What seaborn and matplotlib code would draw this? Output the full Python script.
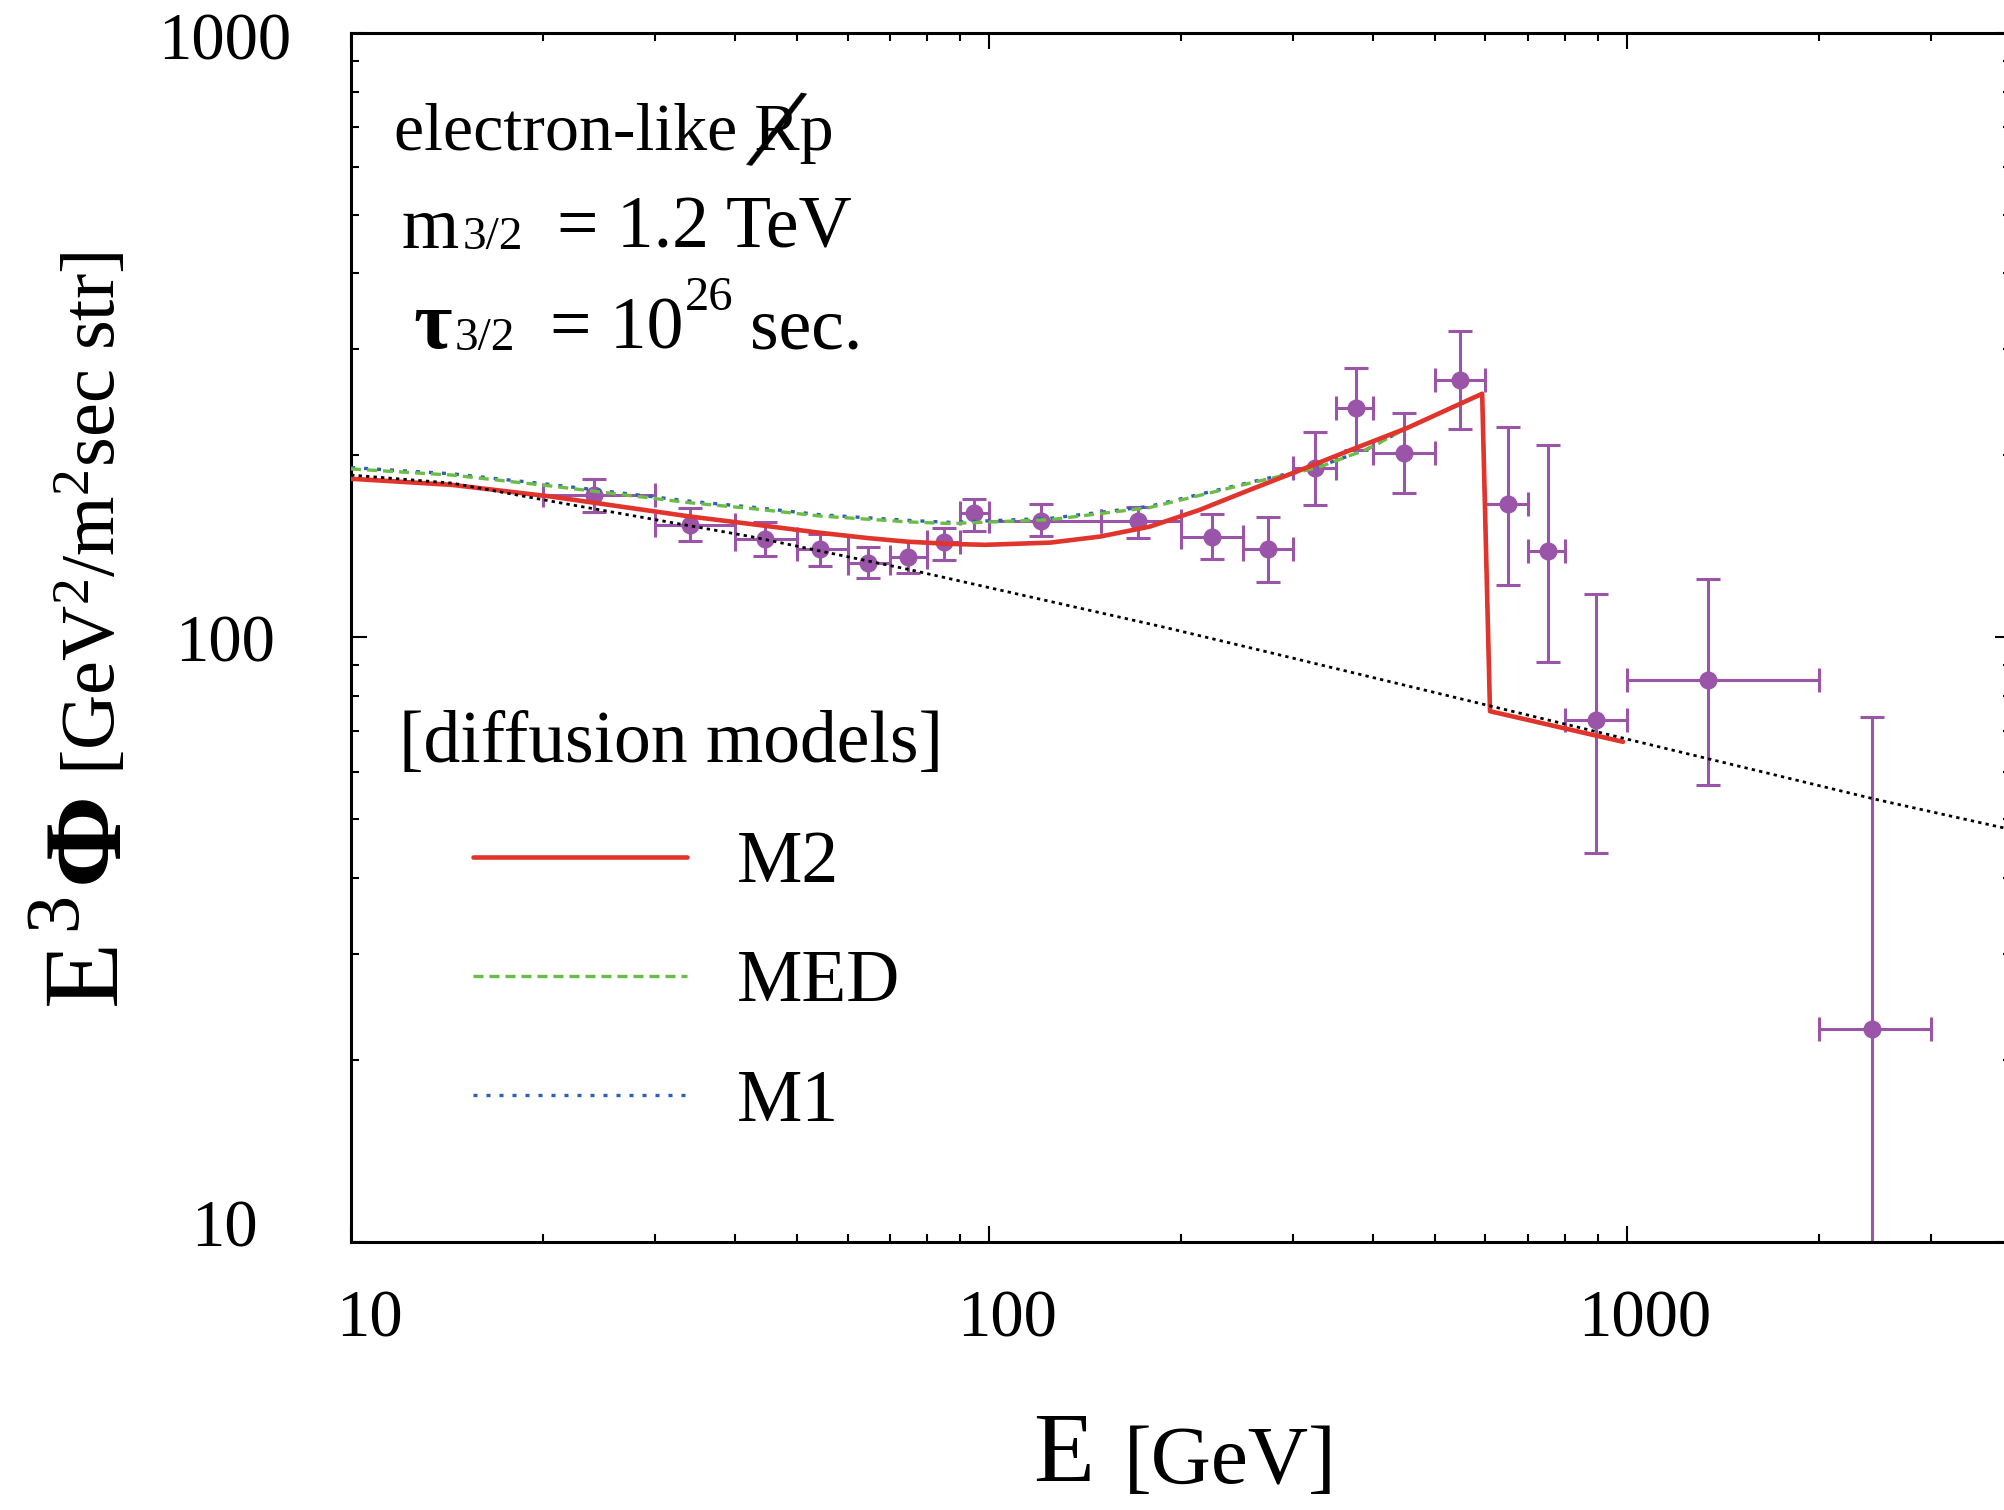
import numpy as np
import pandas as pd
import matplotlib.pyplot as plt
import matplotlib.transforms as mtrans
import seaborn as sns

# measured points: energy bin edges, central values and flux error range
E_data = [24, 34, 44.6, 54.3, 64.6, 74.6, 85, 94.6, 120.5, 171.5, 224, 274,
          324, 376, 447, 547, 650, 751, 894, 1340, 2420]
E_lo = [20, 30, 40, 50, 60, 70, 80, 90, 100, 150, 200, 250,
        300, 350, 400, 500, 600, 700, 800, 1000, 2000]
E_hi = [30, 40, 50, 60, 70, 80, 90, 100, 150, 200, 250, 300,
        350, 400, 500, 600, 700, 800, 1000, 2000, 3000]
phi_data = [172, 153.6, 145.6, 140.3, 133, 136, 143.6, 160.7, 156, 156, 146.8, 140,
            191, 240, 202, 267, 166, 139, 73, 85, 22.5]
phi_lo = [161, 144.5, 136.4, 131.5, 125.6, 128, 134.5, 150, 147, 146, 135, 123.7,
          165.6, 204, 173.5, 221, 122, 91, 44, 57, 5]
phi_hi = [183, 164, 155, 148.5, 141, 144.5, 152, 169.5, 166, 164.4, 160, 158,
          219, 279, 235, 321, 223, 208, 118, 125, 73.8]

# background (black dotted)
bkg_E = [10, 14.4, 20.6, 42.4, 75, 188, 256, 2450, 3900]
bkg_phi = [185.6, 180, 168, 146.8, 129.5, 104, 96.2, 54, 48.4]

# diffusion models
m2_E = [10, 14.4, 20.6, 34, 42.4, 54.3, 64.6, 74.6, 86.9, 98.6, 124.7, 149, 178.6, 214, 256.5, 307, 368, 452, 593, 610, 986]
m2_phi = [183, 178.8, 171, 158.5, 154, 149, 146, 144, 142.8, 142.3, 143.5, 146.8, 152.5, 162.6, 175.5, 189, 204, 222, 253, 75.5, 67.2]

med_E = [10, 14.4, 20.6, 34, 42.4, 54.3, 74.6, 86.9, 124.7, 178.6, 256.5, 328, 392, 452, 593, 610, 986]
med_phi = [190, 185.6, 178, 167, 163.4, 158.8, 155.3, 154.3, 156.6, 164, 180, 191, 205, 222, 253, 75.5, 67.2]

m1_E = [10, 14.4, 20.6, 34, 42.4, 54.3, 74.6, 86.9, 124.7, 178.6, 256.5, 328, 392, 452, 593, 610, 986]
m1_phi = [191, 186.5, 179, 168, 164.3, 159.6, 156.2, 155, 157.4, 164.8, 180.6, 191.5, 205, 222, 253, 75.5, 67.2]

model_labels = ['M2', 'MED', 'M1']
tick_vals = [10, 100, 1000]
tick_text = ['10', '100', '1000']

sns.set_theme(style='ticks')
plt.rcParams['font.family'] = ['Liberation Serif', 'DejaVu Serif']
plt.rcParams['mathtext.fontset'] = 'custom'
plt.rcParams['mathtext.rm'] = 'Liberation Serif'
plt.rcParams['mathtext.it'] = 'Liberation Serif:italic'
plt.rcParams['mathtext.bf'] = 'Liberation Serif:bold'
for k in ['text.color', 'axes.labelcolor', 'xtick.color', 'ytick.color', 'axes.edgecolor']:
    plt.rcParams[k] = 'black'

RED = '#e0342c'
GREEN = '#6cbd45'
BLUE = '#2d5fb5'
PURPLE = '#9b55a8'

fig = plt.figure(figsize=(20.04, 15.10), dpi=100)
ax = fig.add_axes([0.1752, 0.1775, 0.8283, 0.8007])
ax.set_xscale('log')
ax.set_yscale('log')

E_data_a = np.array(E_data)
phi_a = np.array(phi_data)
ax.errorbar(E_data_a, phi_a,
            xerr=[E_data_a - np.array(E_lo), np.array(E_hi) - E_data_a],
            yerr=[phi_a - np.array(phi_lo), np.array(phi_hi) - phi_a],
            fmt='o', color=PURPLE, ms=12, elinewidth=2.2, capsize=8.5, capthick=2.2, zorder=2)

sns.lineplot(x=m1_E, y=m1_phi, ax=ax, color=BLUE, lw=2.4, linestyle=(0, (1.2, 2.7)),
             sort=False, estimator=None, zorder=3)
l_m1 = ax.lines[-1]
sns.lineplot(x=med_E, y=med_phi, ax=ax, color=GREEN, lw=2.4, linestyle=(0, (3, 1.8)),
             sort=False, estimator=None, zorder=3)
l_med = ax.lines[-1]
sns.lineplot(x=m2_E, y=m2_phi, ax=ax, color=RED, lw=3.3, sort=False, estimator=None, zorder=4)
l_m2 = ax.lines[-1]
sns.lineplot(x=bkg_E, y=bkg_phi, ax=ax, color='black', lw=2, linestyle=(0, (1.2, 1.5)),
             sort=False, estimator=None, zorder=5)

ax.set_xlim(10, 4000)
ax.set_ylim(10, 1000)
ax.set_xticks(tick_vals, tick_text)
ax.set_yticks(tick_vals, tick_text)
ax.set_xlabel('')
ax.set_ylabel('')
ax.tick_params(which='both', direction='in', top=True, right=True, width=1.5, color='black')
ax.tick_params(which='major', length=11.5, labelsize=48)
ax.tick_params(axis='x', which='major', pad=34)
ax.tick_params(axis='y', which='major', pad=91)
ax.tick_params(which='minor', length=5.8)
for s in ax.spines.values():
    s.set_linewidth(2.2)
off = mtrans.ScaledTranslation(0.18, 0, fig.dpi_scale_trans)
for lab in ax.get_xticklabels():
    lab.set_transform(lab.get_transform() + off)
for lab, dy in zip(ax.get_yticklabels(), [0.19, -0.01, -0.03]):
    lab.set_ha('center')
    lab.set_transform(lab.get_transform() + mtrans.ScaledTranslation(0, dy, fig.dpi_scale_trans))

leg = ax.legend(handles=[l_m2, l_med, l_m1], labels=model_labels, loc='upper left',
                bbox_to_anchor=(0.0735, 0.340), frameon=False, fontsize=53,
                handlelength=2.9, handletextpad=0.68, labelspacing=0.70,
                borderpad=0, borderaxespad=0)

# annotations
fig.text(0.1966, 0.9007, 'electron-like Rp', fontsize=49, va='baseline')
fig.text(0.3872, 0.9152, '\u2571', fontsize=50, family='DejaVu Sans',
         ha='center', va='center', rotation=-10)
fig.text(0.2001, 0.8358, 'm', fontsize=53, va='baseline')
fig.text(0.2310, 0.8350, '3/2', fontsize=34, va='baseline')
fig.text(0.2780, 0.8358, '= 1.2 TeV', fontsize=53, va='baseline')
fig.text(0.2061, 0.7695, '\u03c4', fontsize=60, fontweight='bold', va='baseline')
fig.text(0.2270, 0.7685, '3/2', fontsize=34, va='baseline')
fig.text(0.2745, 0.7695, '= 10', fontsize=53, va='baseline')
fig.text(0.3418, 0.7947, '26', fontsize=35, va='baseline')
fig.text(0.3743, 0.7695, 'sec.', fontsize=53, va='baseline')
fig.text(0.1991, 0.4954, '[diffusion models]', fontsize=53, va='baseline')

# axis labels
fig.text(0.5155, 0.0190, 'E', fontsize=72, va='baseline')
fig.text(0.561, 0.0180, '[GeV]', fontsize=60, va='baseline')
fig.text(0.0574, 0.3344, 'E', fontsize=78, rotation=90,
         rotation_mode='anchor', ha='left', va='baseline')
fig.text(0.0374, 0.3841, '3', fontsize=55, rotation=90,
         rotation_mode='anchor', ha='left', va='baseline')
fig.text(0.0584, 0.4152, '\u03a6', fontsize=80, fontweight='bold', rotation=90,
         rotation_mode='anchor', ha='left', va='baseline')
fig.text(0.0574, 0.4868, r'[GeV$^2$/m$^2$sec str]', fontsize=55, rotation=90,
         rotation_mode='anchor', ha='left', va='baseline')

fig.savefig('out.png', dpi=100)
